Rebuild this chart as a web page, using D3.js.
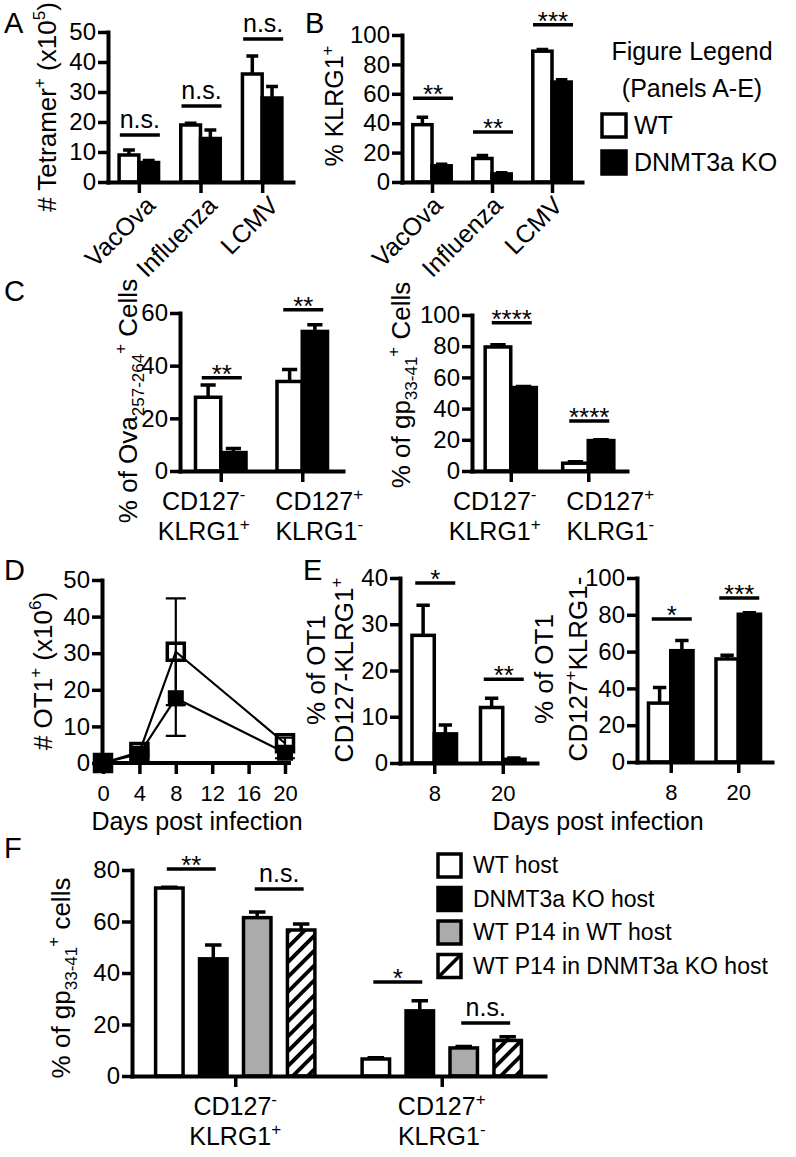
<!DOCTYPE html>
<html><head><meta charset="utf-8">
<script src="https://cdn.jsdelivr.net/npm/d3@7"></script>
<style>
body{margin:0;background:#fff}
svg{display:block;background:#fff}
text{font-family:"Liberation Sans",Arial,Helvetica,sans-serif;fill:#000}
</style>
</head><body>
<svg id="fig" width="796" height="1157"></svg>
<script>
// ================= DATA =================
const virusCats = ["VacOva", "Influenza", "LCMV"];

const aTicks = [0, 10, 20, 30, 40, 50];
const aWT = [9, 19, 36];
const aWTErr = [1.7, 0.6, 6];
const aKO = [6.5, 14.5, 28];
const aKOErr = [0.7, 2.8, 3.8];
const aSig = ["n.s.", "n.s.", "n.s."];
const aSigLevel = [15.7, 25.3, 47.7];

const bTicks = [0, 20, 40, 60, 80, 100];
const bWT = [39, 16, 89];
const bWTErr = [5, 2, 1.2];
const bKO = [11, 5.5, 68];
const bKOErr = [1, 0.8, 1.5];
const bSig = ["**", "**", "***"];
const bSigLevel = [57, 34, 107];

const subsetCats = ["CD127-KLRG1+", "CD127+KLRG1-"];
const subsetLabels = [["CD127^{-}", "KLRG1^{+}"], ["CD127^{+}", "KLRG1^{-}"]];

const cOvaTicks = [0, 20, 40, 60];
const cOvaWT = [28, 34];
const cOvaWTErr = [4.7, 4.5];
const cOvaKO = [7, 53];
const cOvaKOErr = [1.5, 2.5];
const cOvaSig = ["**", "**"];
const cOvaSigLevel = [35.4, 61.2];

const cGpTicks = [0, 20, 40, 60, 80, 100];
const cGpWT = [79.5, 5];
const cGpWTErr = [1.5, 1];
const cGpKO = [53.5, 19.5];
const cGpKOErr = [0.7, 0.6];
const cGpSig = ["****", "****"];
const cGpSigLevel = [95, 32];

const dTicksX = [0, 4, 8, 12, 16, 20];
const dTicksY = [0, 10, 20, 30, 40, 50];
const dDays = [0, 4, 8, 20];
const dWT = [0, 3, 30.4, 5.4];
const dWTErr = [0.5, 0.6, 14.6, 1.5];
const dKO = [0, 2.5, 17.7, 2.8];
const dKOErr = [0.5, 0.6, 10.3, 1.5];

const eDays = ["8", "20"];
const eLoTicks = [0, 10, 20, 30, 40];
const eLoWT = [27.6, 12];
const eLoWTErr = [6.5, 2];
const eLoKO = [6.3, 0.8];
const eLoKOErr = [1.9, 0.3];
const eLoSig = ["*", "**"];
const eLoSigLevel = [38.9, 18.1];

const eHiTicks = [0, 20, 40, 60, 80, 100];
const eHiWT = [32, 56];
const eHiWTErr = [8.5, 2];
const eHiKO = [60.5, 80.3];
const eHiKOErr = [5.5, 0.8];
const eHiSig = ["*", "***"];
const eHiSigLevel = [77.7, 89.1];

const fTicks = [0, 20, 40, 60, 80];
const fSeriesNames = ["WT host", "DNMT3a KO host", "WT P14 in WT host", "WT P14 in DNMT3a KO host"];
const fWTHost = [73, 6.6];
const fWTHostErr = [0.3, 0.5];
const fKOHost = [45.5, 25.3];
const fKOHostErr = [5.4, 3.9];
const fP14WT = [61.5, 10.9];
const fP14WTErr = [2.2, 0.6];
const fP14KO = [56.7, 13.8];
const fP14KOErr = [2.3, 1.4];
const fSig = ["**", "n.s.", "*", "n.s."];
const fSigGroup = [0, 0, 1, 1];
const fSigPair = [[0, 1], [2, 3], [0, 1], [2, 3]];
const fSigLevel = [80.4, 72.6, 36.5, 20.6];

const legendAE = ["WT", "DNMT3a KO"];

// ================= STYLE =================
const FONT = '"Liberation Sans", Arial, Helvetica, sans-serif';
const TICK_FS = 24, TITLE_FS = 25, YT_FS = 26, SW = 3.5;
const C_WT = "#ffffff", C_KO = "#000000", C_GRAY = "#ababab", C_HATCH = "url(#hatch)";

const svg = d3.select("#fig");
const defs = svg.append("defs");
const pat = defs.append("pattern").attr("id", "hatch").attr("patternUnits", "userSpaceOnUse")
  .attr("width", 10.5).attr("height", 10.5).attr("patternTransform", "rotate(45)");
pat.append("rect").attr("width", 10.5).attr("height", 10.5).attr("fill", "#fff");
pat.append("rect").attr("width", 3.8).attr("height", 10.5).attr("fill", "#000");

function parseRich(s) {
  const parts = []; const re = /([_^])\{([^}]*)\}|([^_^]+)/g; let m;
  while ((m = re.exec(s))) {
    if (m[3]) parts.push({ t: m[3] });
    else parts.push({ t: m[2], sup: m[1] === "^", sub: m[1] === "_" });
  }
  return parts;
}
function rich(t, s, fs) {
  let shift = 0;
  parseRich(s).forEach(p => {
    const target = p.sup ? -0.42 * fs : p.sub ? 0.25 * fs : 0;
    const ts = t.append("tspan").text(p.t);
    if (target - shift !== 0) ts.attr("dy", target - shift);
    if (p.sup || p.sub) ts.attr("font-size", Math.round(fs * 0.66));
    shift = target;
  });
  return t;
}
function yTitle(lines, xs, yc, fs) {
  lines.forEach((s, i) => {
    const t = svg.append("text").attr("transform", `translate(${xs[i]},${yc}) rotate(-90)`)
      .attr("text-anchor", "middle").attr("font-size", fs);
    rich(t, s, fs);
  });
}
function label(s, x, y, fs, anchor) {
  const t = svg.append("text").attr("x", x).attr("y", y).attr("font-size", fs)
    .attr("text-anchor", anchor || "start");
  return rich(t, s, fs);
}
function styleAxis(g, fs) {
  g.attr("font-family", FONT).attr("font-size", fs || TICK_FS);
  g.select(".domain").attr("stroke-width", 4).attr("stroke-linecap", "square");
  g.selectAll(".tick line").attr("stroke-width", SW);
  g.selectAll(".tick text").attr("fill", "#000");
}

function barPanel(o) {
  const x = d3.scalePoint().domain(o.cats).range([o.x0, o.x1]).padding(0.5);
  const y = d3.scaleLinear().domain([0, d3.max(o.ticks)]).range([o.y0, o.yTop]);
  const bw = x.step() * o.barFrac;
  const pitch = bw * o.pitch;
  const n = o.series.length;
  const barCx = (ci, si) => x(o.cats[ci]) + (si - (n - 1) / 2) * pitch;
  const g = svg.append("g");
  o.series.forEach((s, si) => {
    const sg = g.append("g");
    sg.selectAll("rect").data(s.vals).join("rect")
      .attr("x", (v, i) => barCx(i, si) - bw / 2)
      .attr("y", v => y(v))
      .attr("width", bw)
      .attr("height", v => y(0) - y(v))
      .attr("fill", s.fill).attr("stroke", "#000").attr("stroke-width", SW);
    sg.append("g").attr("stroke", "#000").attr("stroke-width", SW).attr("fill", "none")
      .selectAll("path").data(s.vals).join("path")
      .attr("d", (v, i) => {
        const cx = barCx(i, si), yt = y(v + s.errs[i]), cw = bw * 0.3;
        return `M${cx},${y(v)}V${yt}M${cx - cw},${yt}H${cx + cw}`;
      });
  });
  const xg = svg.append("g").attr("transform", `translate(0,${o.y0})`)
    .call(d3.axisBottom(x).tickSize(11).tickSizeOuter(0).tickPadding(11)
      .tickFormat(o.labelMode === "axis" ? (d => d) : ""));
  styleAxis(xg, o.labelMode === "axis" ? 22 : TICK_FS);
  const yg = svg.append("g").attr("transform", `translate(${o.x0},0)`)
    .call(d3.axisLeft(y).tickValues(o.ticks).tickSize(10).tickPadding(2).tickSizeOuter(0));
  styleAxis(yg);
  o.sig.forEach(sg => {
    const cx = sg.pair ? (barCx(sg.cat, sg.pair[0]) + barCx(sg.cat, sg.pair[1])) / 2 : x(o.cats[sg.cat]) + 1;
    const hw = sg.pair ? Math.abs(barCx(sg.cat, sg.pair[1]) - barCx(sg.cat, sg.pair[0])) / 2 + 2.5 : o.sigHalf;
    const ly = y(sg.level);
    svg.append("line").attr("x1", cx - hw).attr("x2", cx + hw).attr("y1", ly).attr("y2", ly)
      .attr("stroke", "#000").attr("stroke-width", SW);
    const isStar = sg.label.indexOf("*") >= 0;
    svg.append("text").attr("x", cx).attr("y", isStar ? ly + 5 : ly - 7)
      .attr("text-anchor", "middle").attr("font-size", isStar ? 26 : 25).text(sg.label);
  });
  if (o.labelMode === "rotated") {
    o.cats.forEach(c => {
      svg.append("text").attr("transform", `translate(${x(c) + o.rotDx},${o.y0 + 25}) rotate(-45)`)
        .attr("text-anchor", "end").attr("font-size", 25).text(c);
    });
  } else if (o.labelMode === "twoLine") {
    o.cats.forEach((c, i) => {
      o.lines[i].forEach((s, li) => label(s, x(c) + o.labelDx[i], o.y0 + 39 + li * 30, TITLE_FS, "middle"));
    });
  }
  return { x, y };
}
const mkSig = (labels, levels) => labels.map((l, i) => ({ label: l, level: levels[i], cat: i }));

// ================= PANEL A =================
barPanel({
  cats: virusCats, ticks: aTicks, x0: 108, x1: 293, yTop: 32, y0: 182, barFrac: 0.32, pitch: 1,
  series: [{ vals: aWT, errs: aWTErr, fill: C_WT }, { vals: aKO, errs: aKOErr, fill: C_KO }],
  sig: mkSig(aSig, aSigLevel), sigHalf: 20, labelMode: "rotated", rotDx: 18
});
yTitle(["# Tetramer^{+} (x10^{5})"], [56], 107, YT_FS);

// ================= PANEL B =================
barPanel({
  cats: virusCats, ticks: bTicks, x0: 402, x1: 582, yTop: 35, y0: 182, barFrac: 0.32, pitch: 1,
  series: [{ vals: bWT, errs: bWTErr, fill: C_WT }, { vals: bKO, errs: bKOErr, fill: C_KO }],
  sig: mkSig(bSig, bSigLevel), sigHalf: 20, labelMode: "rotated", rotDx: 12
});
yTitle(["% KLRG1^{+}"], [343], 106, TITLE_FS);

label("Figure Legend", 692, 60, 25, "middle");
label("(Panels A-E)", 692, 97, 25, "middle");
const legAE = svg.append("g");
legAE.selectAll("rect").data(legendAE).join("rect")
  .attr("x", 602).attr("y", (d, i) => 114 + i * 37).attr("width", 24).attr("height", 23)
  .attr("fill", (d, i) => i ? C_KO : C_WT).attr("stroke", "#000").attr("stroke-width", SW);
legAE.selectAll("text").data(legendAE).join("text")
  .attr("x", 634).attr("y", (d, i) => 134 + i * 37).attr("font-size", 25).text(d => d);

// ================= PANEL C =================
barPanel({
  cats: subsetCats, ticks: cOvaTicks, x0: 180, x1: 343, yTop: 313, y0: 471, barFrac: 0.31, pitch: 1,
  series: [{ vals: cOvaWT, errs: cOvaWTErr, fill: C_WT }, { vals: cOvaKO, errs: cOvaKOErr, fill: C_KO }],
  sig: mkSig(cOvaSig, cOvaSigLevel), sigHalf: 20, labelMode: "twoLine", lines: subsetLabels, labelDx: [-17, 17]
});
yTitle(["% of Ova_{257-264}^{+} Cells"], [137], 401, YT_FS);

barPanel({
  cats: subsetCats, ticks: cGpTicks, x0: 472, x1: 627, yTop: 315, y0: 471, barFrac: 0.33, pitch: 1,
  series: [{ vals: cGpWT, errs: cGpWTErr, fill: C_WT }, { vals: cGpKO, errs: cGpKOErr, fill: C_KO }],
  sig: mkSig(cGpSig, cGpSigLevel), sigHalf: 20, labelMode: "twoLine", lines: subsetLabels, labelDx: [-16, 22]
});
yTitle(["% of gp_{33-41}^{+} Cells"], [410], 385, YT_FS);

// ================= PANEL D =================
(function () {
  const x = d3.scaleLinear().domain([0, 20]).range([103, 285]);
  const y = d3.scaleLinear().domain([0, 50]).range([763, 580]);
  const g = svg.append("g");
  const series = [
    { vals: dWT, errs: dWTErr },
    { vals: dKO, errs: dKOErr }
  ];
  series.forEach(s => {
    g.append("g").attr("stroke", "#000").attr("stroke-width", 2.2).attr("fill", "none")
      .selectAll("path").data(dDays).join("path")
      .attr("d", (d, i) => {
        const cx = x(d), y1 = y(s.vals[i] + s.errs[i]), y2 = y(Math.max(0, s.vals[i] - s.errs[i]));
        return `M${cx},${y1}V${y2}M${cx - 10},${y1}H${cx + 10}M${cx - 10},${y2}H${cx + 10}`;
      });
  });
  const line = d3.line().x(d => x(d[0])).y(d => y(d[1]));
  series.forEach(s => {
    g.append("path").attr("d", line(dDays.map((d, i) => [d, s.vals[i]])))
      .attr("fill", "none").attr("stroke", "#000").attr("stroke-width", 2.2);
  });
  g.append("g").selectAll("rect").data(dDays).join("rect")
    .attr("x", d => x(d) - 8).attr("y", (d, i) => y(dKO[i]) - 8).attr("width", 16).attr("height", 16)
    .attr("fill", "#000");
  g.append("g").selectAll("rect").data(dDays).join("rect")
    .attr("x", d => x(d) - 8.5).attr("y", (d, i) => y(dWT[i]) - 8.5).attr("width", 17).attr("height", 17)
    .attr("fill", "none").attr("stroke", "#000").attr("stroke-width", SW);
  const xg = svg.append("g").attr("transform", "translate(0,763)")
    .call(d3.axisBottom(x).tickValues(dTicksX).tickSize(11).tickPadding(11).tickSizeOuter(0));
  styleAxis(xg, 22);
  xg.select(".domain").attr("d", "M100,0H289");
  const yg = svg.append("g").attr("transform", "translate(102,0)")
    .call(d3.axisLeft(y).tickValues(dTicksY).tickSize(10).tickPadding(2).tickSizeOuter(0));
  styleAxis(yg);
})();
yTitle(["# OT1^{+} (x10^{6})"], [52], 671, YT_FS);
label("Days post infection", 197, 830, TITLE_FS, "middle");

// ================= PANEL E =================
barPanel({
  cats: eDays, ticks: eLoTicks, x0: 400, x1: 537, yTop: 578, y0: 763, barFrac: 0.325, pitch: 1,
  series: [{ vals: eLoWT, errs: eLoWTErr, fill: C_WT }, { vals: eLoKO, errs: eLoKOErr, fill: C_KO }],
  sig: mkSig(eLoSig, eLoSigLevel), sigHalf: 20, labelMode: "axis"
});
yTitle(["% of OT1", "CD127-KLRG1^{+}"], [325, 353], 670, YT_FS);

barPanel({
  cats: eDays, ticks: eHiTicks, x0: 637, x1: 772, yTop: 578, y0: 762, barFrac: 0.33, pitch: 1,
  series: [{ vals: eHiWT, errs: eHiWTErr, fill: C_WT }, { vals: eHiKO, errs: eHiKOErr, fill: C_KO }],
  sig: mkSig(eHiSig, eHiSigLevel), sigHalf: 20, labelMode: "axis"
});
yTitle(["% of OT1", "CD127^{+}KLRG1-"], [553, 587], 669, YT_FS);
label("Days post infection", 598, 830, TITLE_FS, "middle");

// ================= PANEL F =================
const fFills = [C_WT, C_KO, C_GRAY, C_HATCH];
barPanel({
  cats: subsetCats, ticks: fTicks, x0: 132, x1: 545, yTop: 870, y0: 1076, barFrac: 0.133, pitch: 1.6,
  series: [
    { vals: fWTHost, errs: fWTHostErr, fill: fFills[0] },
    { vals: fKOHost, errs: fKOHostErr, fill: fFills[1] },
    { vals: fP14WT, errs: fP14WTErr, fill: fFills[2] },
    { vals: fP14KO, errs: fP14KOErr, fill: fFills[3] }
  ],
  sig: fSig.map((l, i) => ({ label: l, level: fSigLevel[i], cat: fSigGroup[i], pair: fSigPair[i] })),
  labelMode: "twoLine", lines: subsetLabels, labelDx: [0, 0]
});
yTitle(["% of gp_{33-41}^{+} cells"], [70], 978, YT_FS);

const legF = svg.append("g");
legF.selectAll("rect").data(fSeriesNames).join("rect")
  .attr("x", 438).attr("y", (d, i) => 854 + i * 33.5).attr("width", 23).attr("height", 23)
  .attr("fill", (d, i) => i === 3 ? C_WT : fFills[i]).attr("stroke", "#000").attr("stroke-width", SW);
legF.append("line").attr("x1", 438).attr("y1", 854 + 3 * 33.5 + 23).attr("x2", 461).attr("y2", 854 + 3 * 33.5)
  .attr("stroke", "#000").attr("stroke-width", SW);
legF.selectAll("text").data(fSeriesNames).join("text")
  .attr("x", 473).attr("y", (d, i) => 873 + i * 33.5).attr("font-size", 23).text(d => d);

// ================= PANEL LETTERS =================
[["A", 4, 33], ["B", 305, 33], ["C", 4, 301], ["D", 4, 580], ["E", 303, 580], ["F", 4, 858]].forEach(p => {
  svg.append("text").attr("x", p[1]).attr("y", p[2]).attr("font-size", 29).text(p[0]);
});
</script>
</body></html>
